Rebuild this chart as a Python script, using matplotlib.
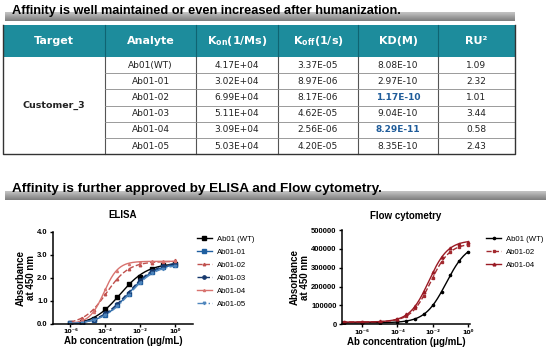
import matplotlib.pyplot as plt
import numpy as np
from matplotlib.patches import Rectangle
from matplotlib.ticker import NullLocator, FixedLocator

plt.rcParams['font.family'] = ['Liberation Sans', 'DejaVu Sans']

# ---- table data ----
headers = ['Target', 'Analyte', r'K$_{\mathbf{on}}$(1/Ms)', r'K$_{\mathbf{off}}$(1/s)', 'KD(M)', 'RU\u00b2']
target = 'Customer_3'
analytes = ['Ab01(WT)', 'Ab01-01', 'Ab01-02', 'Ab01-03', 'Ab01-04', 'Ab01-05']
kon = ['4.17E+04', '3.02E+04', '6.99E+04', '5.11E+04', '3.09E+04', '5.03E+04']
koff = ['3.37E-05', '8.97E-06', '8.17E-06', '4.62E-05', '2.56E-06', '4.20E-05']
kd = ['8.08E-10', '2.97E-10', '1.17E-10', '9.04E-10', '8.29E-11', '8.35E-10']
ru = ['1.09', '2.32', '1.01', '3.44', '0.58', '2.43']
kd_highlight = ['Ab01-02', 'Ab01-04']

# ---- ELISA data (ug/mL, OD450) ----
elisa_conc = [1e-6, 4.6e-6, 2.2e-5, 1e-4, 4.6e-4, 2.2e-3, 1e-2, 4.6e-2, 0.22, 1]
elisa_names = ['Ab01 (WT)', 'Ab01-01', 'Ab01-02', 'Ab01-03', 'Ab01-04', 'Ab01-05']
elisa_wt = [0.03, 0.08, 0.20, 0.62, 1.15, 1.72, 2.05, 2.38, 2.55, 2.60]
elisa_01 = [0.02, 0.05, 0.15, 0.38, 0.80, 1.30, 1.82, 2.25, 2.45, 2.55]
elisa_02 = [0.09, 0.25, 0.60, 1.30, 1.93, 2.37, 2.55, 2.65, 2.68, 2.75]
elisa_03 = [0.02, 0.06, 0.18, 0.45, 0.85, 1.35, 1.90, 2.30, 2.50, 2.60]
elisa_04 = [0.03, 0.15, 0.50, 1.50, 2.30, 2.60, 2.70, 2.72, 2.72, 2.73]
elisa_05 = [0.03, 0.05, 0.14, 0.40, 0.75, 1.25, 1.75, 2.20, 2.40, 2.50]

# ---- Flow cytometry data ----
flow_conc = [1e-7, 1e-6, 1e-5, 1e-4, 3.2e-4, 1e-3, 3.2e-3, 1e-2, 3.2e-2, 0.1, 0.32, 1]
flow_names = ['Ab01 (WT)', 'Ab01-02', 'Ab01-04']
flow_wt = [8000, 8000, 9000, 13000, 18000, 28000, 52000, 100000, 170000, 262000, 335000, 383000]
flow_02 = [10000, 10000, 14000, 27000, 45000, 85000, 150000, 245000, 330000, 385000, 412000, 420000]
flow_04 = [10000, 10000, 15000, 30000, 52000, 95000, 170000, 275000, 355000, 405000, 428000, 435000]

xtick_labels = ['10\u207b\u2076', '10\u207b\u2074', '10\u207b\u00b2', '10\u2070']


def fit4pl(conc, y):
    # crude 4PL fit: grid over logEC50 / hill, linear solve for bottom / top
    lx = np.log10(conc)
    y = np.asarray(y, float)
    best = None
    for h in np.linspace(0.3, 2.0, 69):
        for c in np.linspace(lx.min(), lx.max(), 241):
            f = 1.0 / (1.0 + 10 ** ((c - lx) * h))
            A = np.column_stack([1 - f, f])
            coef, *_ = np.linalg.lstsq(A, y, rcond=None)
            err = np.sum((A @ coef - y) ** 2)
            if best is None or err < best[0]:
                best = (err, h, c, coef)
    _, h, c, (b, t) = best
    return lambda x: b + (t - b) / (1.0 + 10 ** ((c - np.log10(x)) * h))


fig = plt.figure(figsize=(5.53, 3.51), dpi=100)
ax0 = fig.add_axes([0, 0, 1, 1])
ax0.set_xlim(0, 553)
ax0.set_ylim(351, 0)
ax0.axis('off')

# section titles with grey bars
grad = np.linspace(0, 1, 20).reshape(-1, 1)
for (y0, y1, x1) in [(12.5, 21, 515), (191, 200, 546)]:
    ax0.imshow(grad, cmap='Greys', vmin=-1.5, vmax=2.8, aspect='auto',
               extent=[5, x1, y1, y0], zorder=1)
ax0.text(12, 11, 'Affinity is well maintained or even increased after humanization.',
         fontsize=9.2, fontweight='bold', va='center', ha='left', zorder=3)
ax0.text(12, 189, 'Affinity is further approved by ELISA and Flow cytometry.',
         fontsize=9.7, fontweight='bold', va='center', ha='left', zorder=3)

# ---- table ----
cols = [3, 105, 196, 278, 358, 438, 515]
top, head_bot, row_h = 25, 57, 16.2
nrows = len(analytes)
bottom = head_bot + row_h * nrows
teal = '#1d8c9c'
ax0.add_patch(Rectangle((cols[0], top), cols[-1] - cols[0], head_bot - top,
                        facecolor=teal, edgecolor='none', zorder=2))
for i, h in enumerate(headers):
    ax0.text((cols[i] + cols[i + 1]) / 2, (top + head_bot) / 2, h, color='white',
             fontsize=8, fontweight='bold', ha='center', va='center',
             family=['DejaVu Sans'], zorder=4)
for x in cols[1:-1]:
    ax0.plot([x, x], [top, head_bot], color='#0f6472', lw=0.8, zorder=3)
    ax0.plot([x, x], [head_bot, bottom], color='#555555', lw=0.8, zorder=3)
for r in range(1, nrows):
    yy = head_bot + r * row_h
    ax0.plot([cols[1], cols[-1]], [yy, yy], color='#8a8a8a', lw=0.6, zorder=3)
ax0.plot([cols[0], cols[0], cols[-1], cols[-1]], [top, bottom, bottom, top],
         color='#333333', lw=1.0, zorder=3)
ax0.text((cols[0] + cols[1]) / 2, (head_bot + bottom) / 2, target,
         fontsize=6.8, fontweight='bold', ha='center', va='center',
         family=['DejaVu Sans'], color='#222222')
for r in range(nrows):
    yc = head_bot + (r + 0.5) * row_h
    vals = [analytes[r], kon[r], koff[r], kd[r], ru[r]]
    for j, v in enumerate(vals):
        hl = (j == 3 and analytes[r] in kd_highlight)
        ax0.text((cols[j + 1] + cols[j + 2]) / 2, yc, v, fontsize=6.5,
                 ha='center', va='center', family=['DejaVu Sans'],
                 color='#1f5c9a' if hl else '#222222',
                 fontweight='bold' if hl else 'normal')


def style(ax):
    for s in ['top', 'right']:
        ax.spines[s].set_visible(False)
    for s in ['left', 'bottom']:
        ax.spines[s].set_linewidth(1.1)
    ax.set_xscale('log')
    ax.xaxis.set_major_locator(FixedLocator([1e-6, 1e-4, 1e-2, 1]))
    ax.xaxis.set_minor_locator(NullLocator())
    ax.set_xticklabels(xtick_labels, family=['DejaVu Sans'], fontweight='bold')
    ax.tick_params(width=1.0, length=2.5, labelsize=5.5, pad=1.2)
    ax.tick_params(axis='x', labelsize=4.6, pad=1.5)
    for lab in ax.get_yticklabels():
        lab.set_fontweight('bold')
    ax.set_xlabel('Ab concentration (\u03bcg/mL)', fontsize=7, fontweight='bold', labelpad=1.5)
    ax.set_ylabel('Absorbance\nat 450 nm', fontsize=7, fontweight='bold', labelpad=1,
                  linespacing=1.0)
    ax.patch.set_alpha(0)


# ---- ELISA ----
ax1 = fig.add_axes([53 / 553, 1 - 323.7 / 351, 140 / 553, 92 / 351])
elisa_series = [elisa_wt, elisa_01, elisa_02, elisa_03, elisa_04, elisa_05]
elisa_style = [('black', '-', 's', 2.2), ('#1f5fa0', '-', 's', 2.2),
               ('#c0504d', '--', '^', 1.8), ('#17396e', '--', 'o', 2.4),
               ('#d8736f', '-', '^', 1.5), ('#4f86bd', '-.', 'v', 1.8)]
xs = np.logspace(-6, 0, 200)
for name, ys, (c, ls, m, ms) in zip(elisa_names, elisa_series, elisa_style):
    f = fit4pl(elisa_conc, ys)
    ax1.plot(xs, f(xs), color=c, ls=ls, lw=1.0)
    ax1.plot(elisa_conc, ys, color=c, ls='none', marker=m, ms=ms)
    ax1.plot([], [], color=c, ls=ls, lw=1.0, marker=m, ms=ms, label=name)
ax1.set_xlim(1e-7, 1.1e1)
ax1.set_ylim(0, 4)
ax1.set_yticks([0, 1, 2, 3, 4])
ax1.set_yticklabels(['0.0', '1.0', '2.0', '3.0', '4.0'])
style(ax1)
ax1.set_title('ELISA', fontsize=7, fontweight='bold', pad=10)
ax1.legend(loc='upper left', bbox_to_anchor=(194 / 553, 1 - 232 / 351),
           bbox_transform=fig.transFigure, frameon=False, fontsize=5.6,
           handlelength=1.9, labelspacing=0.72, handletextpad=0.6, borderaxespad=0)

# ---- Flow cytometry ----
ax2 = fig.add_axes([341.7 / 553, 1 - 324.3 / 351, 128.3 / 553, 94.3 / 351])
flow_series = [flow_wt, flow_02, flow_04]
flow_style = [('black', '-', 'o', 1.6), ('#a32a30', '--', 's', 1.8), ('#9a1a24', '-', '^', 2.0)]
xs2 = np.logspace(-7.15, 0, 200)
for name, ys, (c, ls, m, ms) in zip(flow_names, flow_series, flow_style):
    f = fit4pl(flow_conc, ys)
    ax2.plot(xs2, f(xs2), color=c, ls=ls, lw=1.0)
    ax2.plot(flow_conc, ys, color=c, ls='none', marker=m, ms=ms)
    ax2.plot([], [], color=c, ls=ls, lw=1.0, marker=m, ms=ms, label=name)
ax2.set_xlim(10 ** -7.15, 10 ** 0.12)
ax2.set_ylim(0, 500000)
ax2.set_yticks([0, 100000, 200000, 300000, 400000, 500000])
style(ax2)
ax2.set_title('Flow cytometry', fontsize=7, fontweight='bold', pad=8)
ax2.legend(loc='upper left', bbox_to_anchor=(483 / 553, 1 - 232 / 351),
           bbox_transform=fig.transFigure, frameon=False, fontsize=5.6,
           handlelength=1.9, labelspacing=0.72, handletextpad=0.6, borderaxespad=0)

fig.savefig('out.png', dpi=100)
